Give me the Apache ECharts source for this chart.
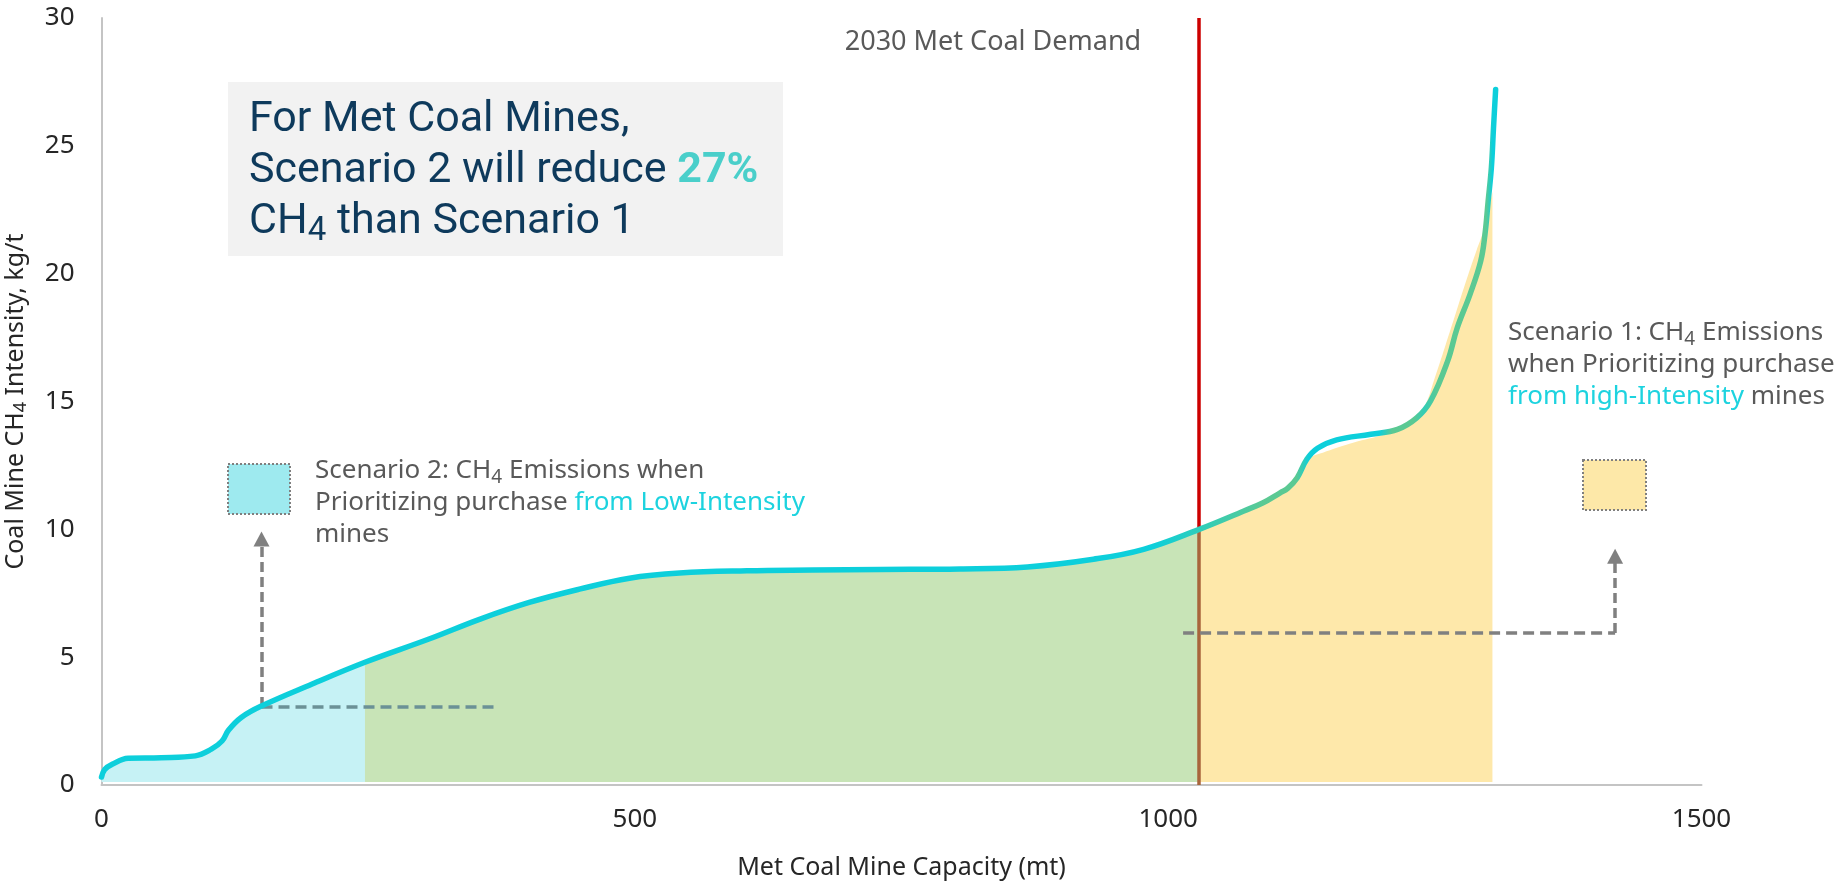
<!DOCTYPE html>
<html>
<head>
<meta charset="utf-8">
<script src="https://cdn.jsdelivr.net/npm/echarts@6/dist/echarts.min.js"></script>
<style>
  html, body { margin: 0; padding: 0; background: #ffffff; }
  #chart { width: 1836px; height: 882px; }
</style>
</head>
<body>
<div id="chart"></div>
<script>
// Cumulative met coal mine capacity (mt) and CH4 intensity (kg/t) along the supply curve
const capacity = [0, 3, 10, 25, 56, 88, 103, 113, 119, 131, 150, 197, 247, 307, 355, 401, 448, 495, 542, 605,
  667, 730, 805, 868, 930, 977, 1029, 1071, 1089, 1105, 1112, 1121, 1130, 1140, 1158, 1190, 1215, 1233,
  1246, 1262, 1271, 1283, 1293, 1297, 1300, 1303, 1305, 1307];
const intensity = [0.31, 0.61, 0.81, 1.05, 1.07, 1.14, 1.40, 1.72, 2.14, 2.64, 3.09, 3.94, 4.8, 5.71, 6.49, 7.14,
  7.66, 8.09, 8.29, 8.38, 8.41, 8.43, 8.45, 8.53, 8.83, 9.22, 10.0, 10.72, 11.04, 11.43, 11.6, 12.02, 12.74,
  13.17, 13.5, 13.72, 13.91, 14.36, 15.02, 16.58, 17.88, 19.19, 20.49, 21.54, 22.84, 24.14, 25.7, 27.2];

// Scenario 1 band beyond the 2030 demand (high-intensity purchases)
const scenario1Capacity = [1029, 1050, 1071, 1090, 1105, 1118, 1126, 1133, 1145, 1170, 1200, 1215, 1233, 1242,
  1249, 1260, 1270, 1280, 1289, 1295, 1300, 1304];
const scenario1Intensity = [10.0, 10.33, 10.72, 11.05, 11.43, 11.85, 12.35, 12.8, 13.0, 13.35, 13.68, 13.91, 14.4,
  14.95, 15.8, 17.2, 18.5, 19.8, 20.9, 21.6, 22.4, 23.2];

const lowIntensityEnd = 247;   // capacity where the low-intensity band ends, mt
const demand2030 = 1029;       // 2030 met coal demand, mt
const reduction = '27%';

const xTicks = [0, 500, 1000, 1500];
const yTicks = [0, 5, 10, 15, 20, 25, 30];

// ---------------------------------------------------------------------------
const CYAN = '#0dcfdb';
const GREEN = '#5bc993';
const MIX = '#33cdb6';
const GREY_TEXT = '#595959';
const HIGHLIGHT = '#1dd3df';

const toPoints = (xs, ys) => xs.map((x, i) => [x, ys[i]]);
const curve = toPoints(capacity, intensity);
const lowBand = curve.filter(p => p[0] <= lowIntensityEnd);
const midBand = curve.filter(p => p[0] >= lowIntensityEnd && p[0] <= demand2030);
const highBand = toPoints(scenario1Capacity, scenario1Intensity);
const demandIntensity = intensity[capacity.indexOf(demand2030)];

// annotation anchors, in data units
const lowArrow = { x: 150, y: 3.05, toX: 370, tipY: 9.62 };
const highArrow = { fromX: 1014, y: 5.95, x: 1419, tipY: 8.95 };

const SMOOTH = 0.4;
const bandSeries = (data, color) => ({
  type: 'line', data, smooth: SMOOTH, symbol: 'none', silent: true,
  lineStyle: { width: 0 }, areaStyle: { color, opacity: 1, origin: 0.12 }, z: 1
});

const smallRich = {
  g: { fontFamily: 'Noto Sans', fontSize: 26, fill: GREY_TEXT, lineHeight: 32 },
  c: { fontFamily: 'Noto Sans', fontSize: 26, fill: HIGHLIGHT, lineHeight: 32 },
  s: { fontFamily: 'Noto Sans', fontSize: 19, fill: GREY_TEXT, lineHeight: 19, verticalAlign: 'bottom' }
};

const option = {
  animation: false,
  backgroundColor: '#ffffff',
  grid: { left: 101.5, right: 134.5, top: 18, bottom: 97, containLabel: false, outerBoundsMode: 'none' },
  xAxis: {
    type: 'value', min: xTicks[0], max: xTicks[xTicks.length - 1], interval: xTicks[1] - xTicks[0],
    axisLine: { show: true, lineStyle: { color: '#c4c4c4', width: 2 } },
    axisTick: { show: false }, splitLine: { show: false },
    axisLabel: { margin: 22, fontFamily: 'Noto Sans', fontSize: 26, color: '#262626', formatter: v => String(v) },
    name: 'Met Coal Mine Capacity (mt)', nameLocation: 'middle', nameGap: 70,
    nameTextStyle: { fontFamily: 'Noto Sans', fontSize: 25, color: '#262626' }
  },
  yAxis: {
    type: 'value', min: yTicks[0], max: yTicks[yTicks.length - 1], interval: yTicks[1] - yTicks[0],
    axisLine: { show: true, lineStyle: { color: '#c4c4c4', width: 2 } },
    axisTick: { show: false }, splitLine: { show: false },
    axisLabel: { margin: 27, fontFamily: 'Noto Sans', fontSize: 26, color: '#262626', formatter: v => String(v) },
    name: '{a|Coal Mine CH}{s|4}{a| Intensity, kg/t}', nameLocation: 'middle', nameGap: 72,
    nameTextStyle: {
      fontFamily: 'Noto Sans', fontSize: 25, color: '#262626',
      rich: {
        a: { fontFamily: 'Noto Sans', fontSize: 25, color: '#262626', lineHeight: 28 },
        s: { fontFamily: 'Noto Sans', fontSize: 18, color: '#262626', lineHeight: 18, verticalAlign: 'bottom' }
      }
    }
  },
  series: [
    bandSeries(lowBand, '#c6f2f5'),
    bandSeries(midBand, '#c8e4b7'),
    bandSeries(highBand, '#fee8aa'),
    {
      // demand line and the dashed call-out arrows
      type: 'line', data: [], silent: true, z: 2,
      markLine: {
        silent: true, animation: false, symbol: ['none', 'none'], label: { show: false },
        emphasis: { disabled: true },
        data: [
          [{ coord: [demand2030, 0], lineStyle: { color: '#a8653b', width: 3.5, type: 'solid' } },
           { coord: [demand2030, demandIntensity] }],
          [{ coord: [demand2030, demandIntensity], lineStyle: { color: '#cc0000', width: 3.5, type: 'solid' } },
           { coord: [demand2030, yTicks[yTicks.length - 1]] }],
          [{ coord: [lowArrow.x, lowArrow.y], lineStyle: { color: '#6b9196', width: 3.5, type: [11, 6] } },
           { coord: [lowArrow.toX, lowArrow.y] }],
          [{ coord: [lowArrow.x, lowArrow.y], lineStyle: { color: '#808080', width: 3.5, type: [10, 5] } },
           { coord: [lowArrow.x, lowArrow.tipY], symbol: 'triangle', symbolSize: [16, 15] }],
          [{ coord: [highArrow.fromX, highArrow.y], lineStyle: { color: '#808080', width: 3.5, type: [11, 6] } },
           { coord: [highArrow.x, highArrow.y] }],
          [{ coord: [highArrow.x, highArrow.y], lineStyle: { color: '#808080', width: 3.5, type: [10, 5] } },
           { coord: [highArrow.x, highArrow.tipY], symbol: 'triangle', symbolSize: [16, 15] }]
        ]
      }
    },
    {
      id: 'curve', type: 'line', data: curve, smooth: SMOOTH,
      symbol: 'none', silent: true, z: 5,
      lineStyle: { width: 5.5, color: CYAN, cap: 'round' }
    }
  ],
  graphic: [
    { type: 'rect', shape: { x: 228, y: 82, width: 555, height: 174 }, style: { fill: '#f2f2f2' }, silent: true },
    {
      type: 'text', silent: true,
      style: {
        x: 249, y: 95, align: 'left', verticalAlign: 'top',
        text: '{a|For Met Coal Mines,}\n{a|Scenario 2 will reduce }{b|' + reduction + '}\n{a|CH}{s|4}{a| than Scenario 1}',
        rich: {
          a: { fontFamily: 'Roboto', fontSize: 43, fill: '#0e3a5c', lineHeight: 51 },
          b: { fontFamily: 'Roboto', fontSize: 43, fontWeight: 'bold', fill: '#4acfca', lineHeight: 51 },
          s: { fontFamily: 'Roboto', fontSize: 33, fill: '#0e3a5c', lineHeight: 26, verticalAlign: 'bottom' }
        }
      }
    },
    {
      type: 'text', silent: true,
      style: {
        x: 993, y: 42, align: 'center', verticalAlign: 'middle',
        text: '2030 Met Coal Demand', font: '27px "Noto Sans"', fill: GREY_TEXT
      }
    },
    {
      type: 'rect', silent: true, shape: { x: 228, y: 464, width: 62, height: 50 },
      style: { fill: '#9eeaef', stroke: '#7f7f7f', lineWidth: 2, lineDash: [2, 2] }
    },
    {
      type: 'text', silent: true,
      style: {
        x: 315, y: 455, align: 'left', verticalAlign: 'top',
        text: '{g|Scenario 2: CH}{s|4}{g| Emissions when}\n{g|Prioritizing purchase }{c|from Low-Intensity}\n{g|mines}',
        rich: smallRich
      }
    },
    {
      type: 'rect', silent: true, shape: { x: 1583, y: 460, width: 63, height: 50 },
      style: { fill: '#fde8a8', stroke: '#7f7f7f', lineWidth: 2, lineDash: [2, 2] }
    },
    {
      type: 'text', silent: true,
      style: {
        x: 1508, y: 317, align: 'left', verticalAlign: 'top',
        text: '{g|Scenario 1: CH}{s|4}{g| Emissions}\n{g|when Prioritizing purchase}\n{c|from high-Intensity}{g| mines}',
        rich: smallRich
      }
    }
  ]
};

const chart = echarts.init(document.getElementById('chart'), null, { renderer: 'canvas' });
chart.setOption(option);

// The curve shifts from cyan to green where the two scenarios overlap
const px = v => chart.convertToPixel({ xAxisIndex: 0 }, v);
const x0 = px(capacity[0]);
const x1 = px(capacity[capacity.length - 1]);
const stop = (v, color) => ({ offset: Math.min(1, Math.max(0, (px(v) - x0) / (x1 - x0))), color });
chart.setOption({
  series: [{
    id: 'curve',
    lineStyle: {
      color: {
        type: 'linear', x: x0, y: 0, x2: x1, y2: 0, global: true,
        colorStops: [
          stop(0, CYAN), stop(985, CYAN), stop(1035, MIX), stop(1090, GREEN), stop(1120, GREEN),
          stop(1132, CYAN), stop(1198, CYAN), stop(1210, GREEN), stop(1230, GREEN), stop(1240, MIX),
          stop(1252, GREEN), stop(1298, GREEN), stop(1304, CYAN), stop(1307, CYAN)
        ]
      }
    }
  }]
});
</script>
</body>
</html>
